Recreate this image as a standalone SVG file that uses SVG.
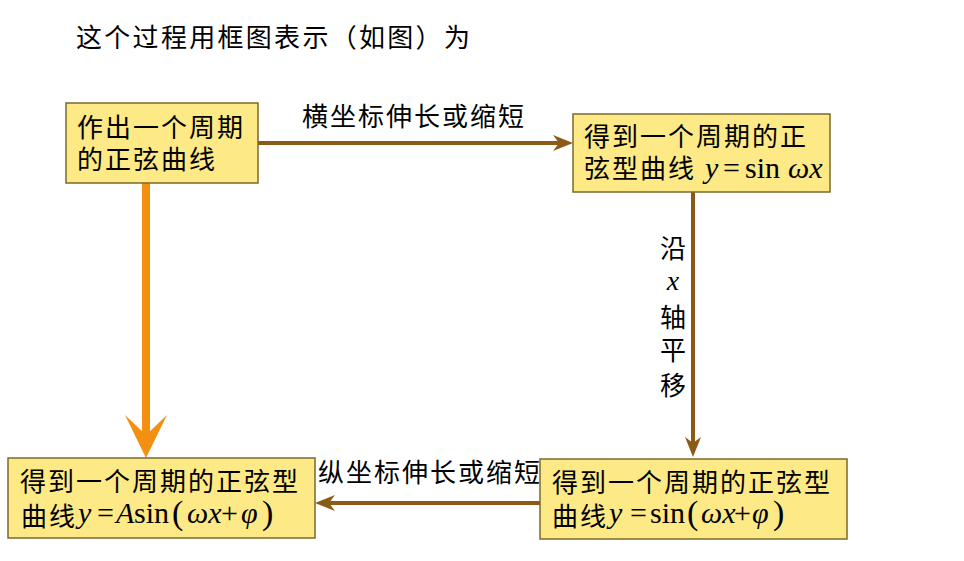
<svg xmlns="http://www.w3.org/2000/svg" width="964" height="561" viewBox="0 0 964 561">
<defs>
<style>
.cjk{font-family:"Noto Sans CJK SC","Noto Sans CJK JP",sans-serif;font-size:26px;fill:#000}
.m{font-family:"Liberation Serif","Times New Roman",serif;font-size:30px;fill:#000}
.i{font-style:italic}
.p{font-size:34px}
.box{fill:#FDE985;stroke:#7A6A2A;stroke-width:1.5}
.brown{stroke:#8B5A16;stroke-width:4;fill:none}
.orange{stroke:#F39012;stroke-width:8;fill:none}
</style>
<marker id="hb" markerUnits="userSpaceOnUse" markerWidth="22" markerHeight="18" refX="10" refY="8" orient="auto" viewBox="0 0 22 18">
<path d="M0,0 L20,8 L0,16 L6,8 Z" fill="#8B5A16"/>
</marker>
<marker id="ho" markerUnits="userSpaceOnUse" markerWidth="45" markerHeight="44" refX="25" refY="21" orient="auto" viewBox="0 0 45 44">
<path d="M0,0 L43,21 L0,42 L20,21 Z" fill="#F39012"/>
</marker>
</defs>
<rect width="964" height="561" fill="#fff"/>
<text class="cjk" x="76" y="47" style="font-size:26px;letter-spacing:2.3px">这个过程用框图表示（如图）为</text>

<g id="connectors">
<path class="brown" d="M258,143 H563" marker-end="url(#hb)"/>
<path class="brown" d="M693,192 V447" marker-end="url(#hb)"/>
<path class="brown" d="M540,503 H325" marker-end="url(#hb)"/>
<path class="orange" d="M146,183 V440" marker-end="url(#ho)"/>
<text class="cjk" x="302" y="126" style="letter-spacing:2px">横坐标伸长或缩短</text>
<text class="cjk" x="318" y="482" style="letter-spacing:2px">纵坐标伸长或缩短</text>
<g text-anchor="middle">
<text class="cjk" x="673" y="258">沿</text>
<text class="m i" x="673" y="290" style="font-size:28px">x</text>
<text class="cjk" x="673" y="327">轴</text>
<text class="cjk" x="673" y="360">平</text>
<text class="cjk" x="673" y="395">移</text>
</g>
</g>

<g id="n1">
<rect class="box" x="66" y="103" width="192" height="80"/>
<text class="cjk" x="77" y="137" style="letter-spacing:2px">作出一个周期</text>
<text class="cjk" x="77" y="169" style="letter-spacing:2px">的正弦曲线</text>
</g>

<g id="n2">
<rect class="box" x="573" y="114" width="257" height="78"/>
<text class="cjk" x="584" y="146" style="letter-spacing:2px">得到一个周期的正</text>
<text class="cjk" x="584" y="178" style="letter-spacing:2px">弦型曲线</text>
<text class="m"><tspan class="i" x="705" y="178">y</tspan><tspan x="723" y="178">=</tspan><tspan x="745" y="178">sin</tspan><tspan class="i" x="788" y="178">ωx</tspan></text>
</g>

<g id="n3">
<rect class="box" x="8" y="458" width="307" height="80"/>
<text class="cjk" x="20" y="491" style="letter-spacing:2px">得到一个周期的正弦型</text>
<text class="cjk" x="21" y="526" style="letter-spacing:2px">曲线</text>
<text class="m"><tspan class="i" x="78" y="523">y</tspan><tspan x="97" y="523">=</tspan><tspan class="i" x="116" y="523">A</tspan><tspan x="134" y="523">sin</tspan><tspan class="p" x="172" y="524">(</tspan><tspan class="i" x="187" y="523">ωx</tspan><tspan x="221" y="523">+</tspan><tspan class="i" x="241" y="523">φ</tspan><tspan class="p" x="262" y="524">)</tspan></text>
</g>

<g id="n4">
<rect class="box" x="540" y="459" width="307" height="80"/>
<text class="cjk" x="552" y="492" style="letter-spacing:2px">得到一个周期的正弦型</text>
<text class="cjk" x="552" y="526" style="letter-spacing:2px">曲线</text>
<text class="m"><tspan class="i" x="609" y="523">y</tspan><tspan x="630" y="523">=</tspan><tspan x="650" y="523">sin</tspan><tspan class="p" x="687" y="524">(</tspan><tspan class="i" x="701" y="523">ωx</tspan><tspan x="734" y="523">+</tspan><tspan class="i" x="752" y="523">φ</tspan><tspan class="p" x="773" y="524">)</tspan></text>
</g>
</svg>
